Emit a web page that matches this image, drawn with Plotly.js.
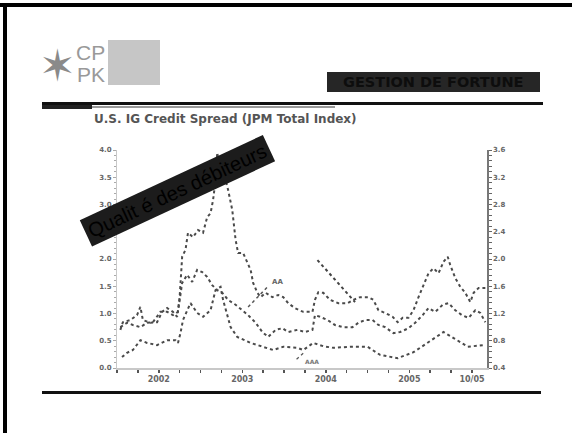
<!DOCTYPE html>
<html>
<head>
<meta charset="utf-8">
<script src="https://cdn.plot.ly/plotly-3.0.1.min.js"></script>
<style>
html,body{margin:0;padding:0;background:#fff;}
#chart{width:572px;height:433px;}
</style>
</head>
<body>
<div id="chart"></div>
<script>
// ---- data ----
const chartTitle = "U.S. IG Credit Spread (JPM Total Index)";
const seriesNames = ["BBB", "A", "AA"];
const xTickVals = [2002, 2003, 2004, 2005, 2005.75];
const xTickText = ["2002", "2003", "2004", "2005", "10/05"];
const leftTickVals = [0, 0.5, 1, 1.5, 2, 2.5, 3, 3.5, 4];
const rightTickVals = [0.4, 0.8, 1.2, 1.6, 2.0, 2.4, 2.8, 3.2, 3.6];

const bbbYears = [2001.54,2001.57,2001.66,2001.74,2001.78,2001.81,2001.90,2001.98,2002.04,2002.10,
 2002.17,2002.22,2002.25,2002.28,2002.32,2002.35,2002.41,2002.47,2002.53,2002.58,
 2002.62,2002.65,2002.68,2002.70,2002.74,2002.80,2002.83,2002.88,2002.92,2002.95,
 2003.01,2003.06,2003.10,2003.13,2003.18,2003.22,2003.28,2003.36,2003.43,2003.49,
 2003.55,2003.63,2003.73,2003.84,2003.87,2003.91,2003.97,2004.05,2004.15,2004.26,
 2004.33,2004.41,2004.51,2004.57,2004.63,2004.71,2004.80,2004.86,2004.92,2004.99,
 2005.05,2005.11,2005.17,2005.23,2005.29,2005.35,2005.41,2005.46,2005.49,2005.55,
 2005.61,2005.67,2005.73,2005.77,2005.83,2005.91];
const bbbValues = [0.70,0.84,0.88,0.97,1.12,0.88,0.83,0.84,1.03,1.10,
 1.03,0.94,1.30,2.04,2.17,2.48,2.40,2.53,2.48,2.77,
 2.84,3.08,3.45,3.95,3.58,3.45,3.27,2.90,2.35,2.11,
 2.11,1.93,1.80,1.56,1.38,1.30,1.38,1.30,1.34,1.30,
 1.19,1.10,1.03,1.03,1.25,1.39,1.38,1.25,1.19,1.19,
 1.25,1.30,1.30,1.25,1.06,1.01,0.94,0.84,0.92,0.92,
 1.06,1.30,1.52,1.74,1.83,1.74,1.95,2.04,1.89,1.65,
 1.49,1.38,1.21,1.38,1.47,1.47];

const aYears = [2001.54,2001.62,2001.69,2001.78,2001.86,2001.93,2002.02,2002.10,2002.17,2002.23,
 2002.28,2002.34,2002.40,2002.46,2002.52,2002.58,2002.64,2002.70,2002.76,2002.83,
 2002.92,2003.00,2003.07,2003.16,2003.24,2003.31,2003.40,2003.48,2003.55,2003.66,
 2003.75,2003.84,2003.87,2003.93,2004.02,2004.11,2004.21,2004.32,2004.39,2004.47,
 2004.56,2004.63,2004.71,2004.81,2004.89,2004.99,2005.07,2005.16,2005.23,2005.31,
 2005.40,2005.47,2005.55,2005.63,2005.71,2005.79,2005.85,2005.91];
const aValues = [0.75,0.83,0.79,0.75,0.83,0.84,1.03,1.03,0.97,1.03,
 1.56,1.71,1.58,1.80,1.76,1.67,1.52,1.43,1.38,1.25,
 1.16,1.06,0.97,0.83,0.66,0.57,0.70,0.73,0.66,0.70,
 0.66,0.70,0.97,0.94,0.88,0.79,0.75,0.75,0.83,0.88,
 0.88,0.79,0.75,0.64,0.66,0.73,0.83,0.97,1.10,1.03,
 1.16,1.19,1.06,0.97,0.92,1.06,1.01,0.84];

const aaYears = [2001.56,2001.62,2001.69,2001.78,2001.86,2001.98,2002.10,2002.20,2002.23,2002.26,
 2002.29,2002.38,2002.46,2002.53,2002.62,2002.68,2002.74,2002.77,2002.86,2002.94,
 2003.10,2003.25,2003.37,2003.49,2003.66,2003.73,2003.81,2003.85,2003.97,2004.09,
 2004.29,2004.50,2004.65,2004.86,2005.05,2005.22,2005.41,2005.53,2005.70,2005.89];
const aaValues = [0.20,0.28,0.33,0.51,0.46,0.42,0.51,0.51,0.46,0.64,
 0.88,1.19,1.01,0.94,1.06,1.43,1.49,1.25,0.75,0.57,
 0.46,0.39,0.33,0.39,0.37,0.33,0.42,0.46,0.40,0.37,
 0.39,0.39,0.24,0.18,0.29,0.46,0.66,0.55,0.39,0.42];

// ---- layout helpers (pixel -> paper) ----
const L = 117, R = 487, T = 150, B = 368;
const px = x => (x - L) / (R - L);
const py = y => (B - y) / (B - T);

const lineStyle = {color: '#4a4a4a', width: 2, dash: 'dot'};
const traces = [
  {x: bbbYears, y: bbbValues, name: seriesNames[0], mode: 'lines', line: lineStyle},
  {x: aYears, y: aValues, name: seriesNames[1], mode: 'lines', line: lineStyle},
  {x: aaYears, y: aaValues, name: seriesNames[2], mode: 'lines', line: lineStyle},
  {x: [2002], y: [0.5], yaxis: 'y2', mode: 'markers', marker: {opacity: 0}, showlegend: false, hoverinfo: 'skip'}
];

const tickFont = {family: 'DejaVu Sans', size: 7, color: '#666', weight: 'bold'};

function rect(x0, y0, x1, y1, color) {
  return {type: 'rect', xref: 'paper', yref: 'paper', x0: px(x0), x1: px(x1), y0: py(y0), y1: py(y1),
          fillcolor: color, line: {width: 0}, layer: 'above'};
}

const shapes = [
  rect(0, 3, 572, 7, '#000'),
  rect(3, 3, 7, 433, '#000'),
  rect(42, 102, 543, 105, '#111'),
  rect(42, 105, 92, 109, '#222'),
  rect(92, 106, 335, 108, '#999'),
  rect(42, 391, 541, 394, '#111'),
  rect(327, 72, 540, 92, '#262626'),
  rect(108, 40, 160, 85, '#c6c6c6'),
  // leader lines
  {type: 'line', xref: 'x', yref: 'y', x0: 2003.07, y0: 1.12, x1: 2003.31, y1: 1.50, line: {color: '#555', width: 1.5, dash: 'dot'}},
  {type: 'line', xref: 'x', yref: 'y', x0: 2003.90, y0: 1.98, x1: 2004.35, y1: 1.21, line: {color: '#444', width: 2, dash: 'dot'}},
  {type: 'line', xref: 'x', yref: 'y', x0: 2003.65, y0: 0.16, x1: 2003.75, y1: 0.30, line: {color: '#555', width: 1.2, dash: 'dot'}}
];

const annotations = [
  {xref: 'paper', yref: 'paper', x: px(433.5), y: py(82), text: 'GESTION DE FORTUNE', showarrow: false,
   xanchor: 'center', yanchor: 'middle', font: {family: 'DejaVu Sans', size: 14.5, color: '#0d0d0d', weight: 'bold'}},
  {xref: 'paper', yref: 'paper', x: px(57), y: py(65), text: '✶', showarrow: false,
   xanchor: 'center', yanchor: 'middle', font: {family: 'DejaVu Sans', size: 44, color: '#8a8a8a'}},
  {xref: 'paper', yref: 'paper', x: px(90), y: py(52), text: 'CP', showarrow: false,
   xanchor: 'center', yanchor: 'middle', font: {family: 'Liberation Sans', size: 21, color: '#999'}},
  {xref: 'paper', yref: 'paper', x: px(91), y: py(75), text: 'PK', showarrow: false,
   xanchor: 'center', yanchor: 'middle', font: {family: 'Liberation Sans', size: 21, color: '#999'}},
  {xref: 'paper', yref: 'paper', x: px(177), y: py(191), text: 'Qualit é des débiteurs', showarrow: false,
   xanchor: 'center', yanchor: 'middle', textangle: -25, bgcolor: '#1c1c1c', borderpad: 3,
   font: {family: 'Liberation Sans', size: 20, color: '#000'}},
  {xref: 'x', yref: 'y', x: 2003.42, y: 1.58, text: 'AA', showarrow: false, xanchor: 'center', yanchor: 'middle',
   font: {family: 'DejaVu Sans', size: 7, color: '#666', weight: 'bold'}},
  {xref: 'x', yref: 'y', x: 2003.83, y: 0.12, text: 'AAA', showarrow: false, xanchor: 'center', yanchor: 'middle',
   font: {family: 'DejaVu Sans', size: 6, color: '#777', weight: 'bold'}}
];

const layout = {
  width: 572, height: 433,
  margin: {l: L, r: 572 - R, t: T, b: 433 - B, pad: 0},
  paper_bgcolor: '#fff', plot_bgcolor: '#fff',
  showlegend: false,
  title: {text: chartTitle, xref: 'container', yref: 'container', x: 94 / 572, xanchor: 'left',
          y: 1 - 119 / 433, yanchor: 'middle',
          font: {family: 'DejaVu Sans', size: 12, color: '#555', weight: 'bold'}},
  xaxis: {range: [2001.5, 2005.93], tickmode: 'array', tickvals: xTickVals, ticktext: xTickText,
          showgrid: false, zeroline: false, showline: true, linecolor: '#c8c8c8', linewidth: 1.5,
          ticks: 'outside', ticklen: 3, tickcolor: '#555', tickwidth: 1.5, tickfont: Object.assign({}, tickFont, {size: 8}),
          minor: {dtick: 0.25, tick0: 2002, ticks: 'outside', ticklen: 3, tickcolor: '#555', tickwidth: 1.5, showgrid: false}},
  yaxis: {range: [0, 4], tickmode: 'array', tickvals: leftTickVals, ticktext: leftTickVals.map(v => v.toFixed(1)),
          showgrid: false, zeroline: false, showline: true, linecolor: '#c8c8c8', linewidth: 1,
          ticks: 'outside', ticklen: 3, tickcolor: '#aaa', tickfont: tickFont,
          minor: {dtick: 0.1, tick0: 0, ticks: 'outside', ticklen: 2, tickcolor: '#aaa', showgrid: false}},
  yaxis2: {range: [0.4, 3.6], overlaying: 'y', side: 'right', tickmode: 'array', tickvals: rightTickVals,
           ticktext: rightTickVals.map(v => v.toFixed(1)),
           showgrid: false, zeroline: false, showline: true, linecolor: '#777', linewidth: 1.5,
           ticks: 'outside', ticklen: 3, tickcolor: '#666', tickfont: tickFont,
           minor: {dtick: 0.08, tick0: 0.4, ticks: 'outside', ticklen: 3, tickcolor: '#666', showgrid: false}},
  shapes: shapes,
  annotations: annotations
};

Plotly.newPlot('chart', traces, layout, {displayModeBar: false, staticPlot: true});
</script>
</body>
</html>
